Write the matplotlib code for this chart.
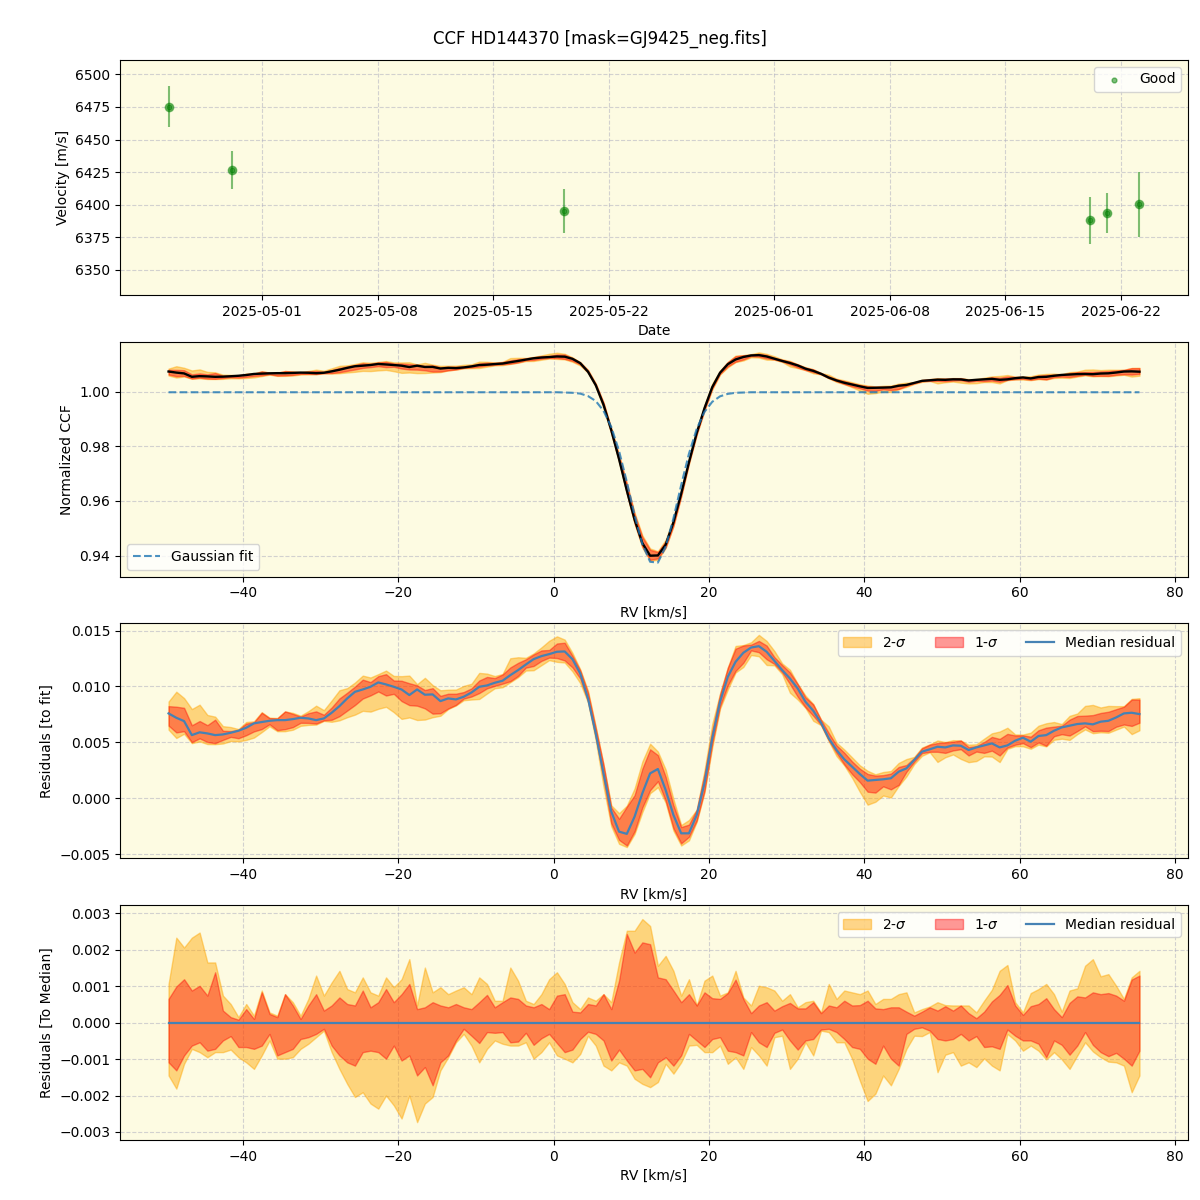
import matplotlib
matplotlib.use('Agg')
import numpy as np
import pandas as pd
import matplotlib.pyplot as plt

# --- RV time series (top panel) ---
obs_dates = ['2025-04-25 08:10', '2025-04-29 04:20', '2025-05-19 07:25',
             '2025-06-20 03:20', '2025-06-21 04:20', '2025-06-23 02:50']
velocity = [6475.2, 6426.7, 6395.1, 6388.0, 6393.6, 6400.5]   # m/s
velocity_err = [15.5, 14.5, 16.8, 18.0, 15.6, 25.0]

# --- CCF grid, 1 km/s steps ---
rv_start = -49.6
n_rv = 126

gauss_fit = ([0.9998] * 50 +
             [0.9998, 0.9997, 0.9996, 0.9993, 0.9984, 0.9966, 0.9930, 0.9871,
              0.9783, 0.9670, 0.9548, 0.9441, 0.9377, 0.9374, 0.9432, 0.9536,
              0.9658, 0.9773, 0.9864, 0.9926, 0.9963, 0.9983, 0.9992, 0.9996,
              0.9997] +
             [0.9998] * 51)

# median residual to the fit (x 1e-3)
median_resid = [
    7.59, 7.20, 6.90, 5.65, 5.90, 5.80, 5.65, 5.71, 5.86, 6.04, 6.31, 6.70,
    6.82, 6.93, 6.99, 6.99, 7.08, 7.20, 7.14, 6.99, 7.14, 7.65, 8.24, 8.93,
    9.52, 9.73, 9.97, 10.36, 10.18, 9.97, 9.73, 9.23, 9.73,
    9.26, 9.29, 8.69, 8.93, 8.84, 9.08, 9.46, 9.97, 10.09, 10.33, 10.51, 11.01,
    11.46, 11.96, 12.44, 12.71, 12.89, 13.10, 13.13, 12.44, 11.16, 8.93, 5.80,
    2.23, -1.19, -2.98, -3.18, -1.64, 0.45, 2.23, 2.62, 0.74,
    -1.49, -3.13, -3.13, -1.49, 1.34, 5.36, 8.63, 10.86, 12.20, 13.01, 13.48,
    13.60, 13.10, 12.29, 11.46, 10.71, 9.82, 8.63, 7.83, 6.76, 5.36, 4.32,
    3.48, 2.83, 2.17, 1.58, 1.64, 1.70, 1.79, 2.38, 2.68, 3.42,
    4.17, 4.38, 4.61, 4.55, 4.73, 4.70, 4.32, 4.55, 4.73, 4.91, 4.55, 4.73,
    5.15, 5.42, 5.06, 5.57, 5.65, 6.04, 6.34, 6.49, 6.64, 6.70, 6.61, 6.85,
    6.93, 7.23, 7.59, 7.65, 7.53]

# band edges relative to the median (x 1e-3)
up2 = [
    1.06, 2.33, 2.06, 2.33, 2.47, 1.65, 1.65, 0.74, 0.51, 0.15, 0.51, 0.19,
    0.88, 0.28, 0.19, 0.78, 0.56, 0.19, 0.65, 1.29, 0.74, 1.10, 1.42, 0.92,
    0.83, 1.24, 0.83, 0.74, 1.24, 0.97, 1.19, 1.74, 0.47,
    1.51, 0.83, 0.97, 0.78, 0.88, 0.97, 0.78, 1.24, 1.06, 0.60, 0.60, 1.51,
    1.15, 0.60, 0.51, 0.78, 1.19, 1.38, 1.06, 0.56, 0.37, 0.69, 0.60, 0.78,
    0.56, 1.65, 2.52, 2.52, 2.84, 2.65, 1.56, 1.83,
    1.42, 0.74, 1.19, 0.47, 1.15, 1.29, 0.74, 0.83, 1.42, 0.69, 0.47, 1.01,
    0.97, 0.88, 0.60, 0.78, 0.42, 0.56, 0.60, 0.28, 1.06, 0.65, 0.88, 0.83,
    0.78, 0.88, 0.51, 0.65, 0.65, 0.78, 0.83, 0.28,
    0.37, 0.44, 0.56, 0.48, 0.47, 0.47, 0.47, 0.28, 0.60, 0.90, 1.42, 1.58,
    0.56, 0.28, 0.81, 0.92, 1.06, 0.78, 0.30, 0.88, 0.94, 1.56, 1.74, 1.27,
    1.33, 1.01, 0.65, 1.24, 1.42]
up1 = [
    0.65, 0.99, 1.19, 0.88, 1.01, 0.74, 1.38, 0.33, 0.15, 0.08, 0.37, 0.10,
    0.83, 0.24, 0.15, 0.78, 0.47, 0.10, 0.47, 0.78, 0.33, 0.47, 0.69, 0.51,
    0.47, 0.88, 0.42, 0.56, 0.92, 0.56, 0.78, 1.06, 0.37,
    0.42, 0.56, 0.47, 0.42, 0.51, 0.42, 0.37, 0.56, 0.76, 0.42, 0.56, 0.69,
    0.65, 0.47, 0.42, 0.51, 0.37, 0.74, 0.78, 0.30, 0.28, 0.51, 0.47, 0.78,
    0.37, 1.15, 2.43, 1.92, 2.20, 2.15, 1.24, 1.19,
    0.88, 0.56, 0.78, 0.47, 0.83, 0.67, 0.65, 0.81, 1.18, 0.65, 0.26, 0.47,
    0.56, 0.33, 0.45, 0.54, 0.39, 0.39, 0.56, 0.26, 0.47, 0.42, 0.60, 0.47,
    0.48, 0.60, 0.39, 0.37, 0.42, 0.42, 0.30, 0.19,
    0.30, 0.42, 0.33, 0.45, 0.33, 0.47, 0.26, 0.12, 0.30, 0.58, 0.76, 1.03,
    0.47, 0.21, 0.45, 0.51, 0.67, 0.37, 0.15, 0.54, 0.72, 0.69, 0.83, 0.78,
    0.81, 0.74, 0.60, 1.18, 1.29]
lo1 = [
    -1.09, -1.31, -0.90, -0.63, -0.54, -0.77, -0.72, -0.49, -0.37, -0.67, -0.67, -0.72,
    -0.63, -0.31, -0.90, -0.81, -0.72, -0.45, -0.40, -0.31, -0.17, -0.63, -0.90, -1.09,
    -1.18, -0.81, -0.77, -0.81, -0.99, -0.63, -1.04, -0.90, -1.45,
    -1.22, -1.72, -1.09, -0.90, -0.49, -0.17, -0.36, -0.56, -0.26, -0.28, -0.26, -0.54,
    -0.52, -0.28, -0.61, -0.43, -0.31, -0.56, -0.81, -0.74, -0.45, -0.25, -0.31, -0.49,
    -1.04, -0.74, -1.04, -1.31, -1.27, -1.50, -1.09, -0.95,
    -1.18, -0.90, -0.31, -0.49, -0.67, -0.45, -0.40, -0.77, -0.81, -0.90, -0.26, -0.54,
    -0.67, -0.28, -0.19, -0.49, -0.74, -0.49, -0.45, -0.19, -0.17, -0.26, -0.45, -0.67,
    -0.72, -0.99, -1.13, -0.63, -0.99, -1.18, -0.31, -0.17,
    -0.13, -0.22, -0.45, -0.49, -0.45, -0.31, -0.49, -0.37, -0.67, -0.65, -0.72, -0.19,
    -0.36, -0.49, -0.49, -0.58, -0.95, -0.49, -0.61, -0.88, -0.63, -0.26, -0.61, -0.81,
    -0.92, -0.83, -0.99, -1.18, -0.77]
lo2 = [
    -1.45, -1.81, -1.13, -0.72, -0.81, -0.95, -0.81, -0.81, -0.74, -0.95, -1.09, -1.27,
    -0.90, -0.49, -0.99, -0.99, -0.95, -0.72, -0.58, -0.40, -0.22, -0.81, -1.27, -1.68,
    -2.04, -1.91, -2.22, -2.36, -2.00, -2.27, -2.63, -2.00, -2.73,
    -2.22, -2.04, -1.31, -0.95, -0.54, -0.31, -0.63, -1.09, -0.72, -0.49, -0.58, -0.63,
    -0.63, -0.54, -0.99, -0.81, -0.54, -0.90, -0.99, -1.09, -0.86, -0.36, -0.63, -1.18,
    -1.31, -1.09, -1.18, -1.54, -1.68, -1.77, -1.63, -1.13,
    -1.40, -1.09, -0.63, -0.61, -0.81, -0.81, -0.63, -1.13, -0.95, -1.27, -0.67, -0.90,
    -1.18, -0.40, -0.36, -1.27, -0.99, -0.54, -0.90, -0.22, -0.26, -0.54, -0.54, -0.99,
    -1.59, -2.15, -1.95, -1.45, -1.72, -1.27, -0.72, -0.36,
    -0.37, -0.26, -1.36, -0.88, -0.81, -1.18, -1.09, -1.22, -0.98, -1.18, -1.31, -0.31,
    -0.49, -0.77, -0.63, -0.77, -1.01, -0.81, -1.01, -1.27, -0.90, -0.54, -0.79, -0.95,
    -1.07, -1.09, -1.18, -1.91, -1.45]

rv = np.round(rv_start + np.arange(n_rv), 1)
fit = np.array(gauss_fit)
med = np.array(median_resid) * 1e-3
u1, u2 = np.array(up1) * 1e-3, np.array(up2) * 1e-3
l1, l2 = np.array(lo1) * 1e-3, np.array(lo2) * 1e-3
ccf = fit + med

bg = '#fdfbe2'
c2, a2 = 'orange', 0.45
c1, a1 = 'red', 0.4
line_blue = '#4682b4'

fig, axes = plt.subplots(4, 1, figsize=(12, 12), dpi=100)
fig.subplots_adjust(left=0.1, right=0.99, top=0.95, bottom=0.05, hspace=0.2)
fig.suptitle('CCF HD144370 [mask=GJ9425_neg.fits]', fontsize=12, y=0.975)

for ax in axes:
    ax.set_facecolor(bg)
    ax.grid(True, linestyle='--', color='#b0b0c0', alpha=0.55)
    ax.set_axisbelow(True)

# panel 1: velocities
ax = axes[0]
dates = pd.to_datetime(obs_dates)
ax.errorbar(dates, velocity, yerr=velocity_err, fmt='o', color='green',
            alpha=0.5, ms=6)
ax.scatter(dates, velocity, s=12, color='green', alpha=0.5, label='Good')
ax.set_ylim(6331, 6511)
ax.set_xlabel('Date')
ax.set_ylabel('Velocity [m/s]')
ax.legend(loc='upper right')

# panel 2: CCF
ax = axes[1]
ax.fill_between(rv, ccf + l2, ccf + u2, color=c2, alpha=a2)
ax.fill_between(rv, ccf + l1, ccf + u1, color=c1, alpha=a1)
ax.plot(rv, ccf, color='black', lw=1.7)
ax.plot(rv, fit, '--', color='tab:blue', alpha=0.8, lw=1.5, label='Gaussian fit')
ax.set_ylim(0.9323, 1.0183)
ax.set_xlabel('RV [km/s]')
ax.set_ylabel('Normalized CCF')
ax.legend(loc='lower left')

# panel 3: residuals to fit
ax = axes[2]
ax.fill_between(rv, med + l2, med + u2, color=c2, alpha=a2, label='2-$\\sigma$')
ax.fill_between(rv, med + l1, med + u1, color=c1, alpha=a1, label='1-$\\sigma$')
ax.plot(rv, med, color=line_blue, lw=1.6, label='Median residual')
ax.set_ylim(-0.00536, 0.01563)
ax.set_xlabel('RV [km/s]')
ax.set_ylabel('Residuals [to fit]')
ax.legend(loc='upper right', ncol=3)

# panel 4: residuals to median
ax = axes[3]
ax.fill_between(rv, l2, u2, color=c2, alpha=a2, label='2-$\\sigma$')
ax.fill_between(rv, l1, u1, color=c1, alpha=a1, label='1-$\\sigma$')
ax.plot(rv, med - med, color=line_blue, lw=1.6, label='Median residual')
ax.set_ylim(-0.00322, 0.00322)
ax.set_xlabel('RV [km/s]')
ax.set_ylabel('Residuals [To Median]')
ax.legend(loc='upper right', ncol=3)

plt.savefig('out.png')
